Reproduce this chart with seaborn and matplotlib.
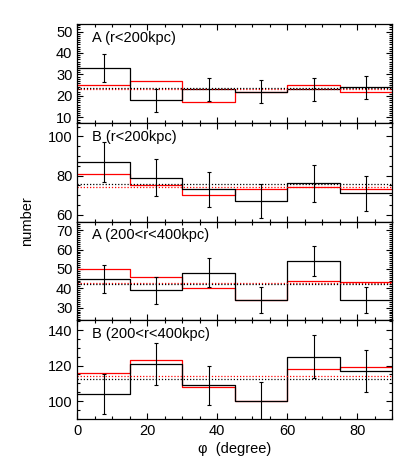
import numpy as np
import matplotlib
matplotlib.use("Agg")
import matplotlib.pyplot as plt
from matplotlib.ticker import MultipleLocator
import seaborn as sns

# ==============================
#   Values
# ==============================
phi_edges = [0, 15, 30, 45, 60, 75, 90]
panel_names = ["A (r<200kpc)", "B (r<200kpc)", "A (200<r<400kpc)", "B (200<r<400kpc)"]

a_in_black = [33, 18, 23, 22, 23, 24]
a_in_red = [25, 27, 17, 22, 25, 22]
a_in_err = [6.3, 5.3, 5.4, 5.3, 5.4, 5.5]

b_in_black = [87, 79, 73, 67, 76, 71]
b_in_red = [81, 75, 70, 73, 74, 73]
b_in_err = [10.0, 9.4, 9.0, 8.8, 9.3, 9.0]

a_out_black = [45, 39, 48, 34, 54, 34]
a_out_red = [50, 46, 40, 34, 44, 43]
a_out_err = [7.2, 6.9, 7.4, 6.5, 7.9, 6.5]

b_out_black = [104, 121, 109, 100, 125, 117]
b_out_red = [116, 123, 108, 100, 118, 119]
b_out_err = [11.1, 11.8, 11.0, 11.0, 12.0, 11.7]

y_limits = [(7.5, 53.5), (56.6, 107), (23.5, 74.5), (89.9, 145.5)]
y_major = [10, 20, 10, 20]
y_minor = [1, 5, 1, 5]

black_sets = [a_in_black, b_in_black, a_out_black, b_out_black]
red_sets = [a_in_red, b_in_red, a_out_red, b_out_red]
err_sets = [a_in_err, b_in_err, a_out_err, b_out_err]

# ==============================
#         Style
# ==============================
sns.set_style("ticks")
plt.rcParams["font.family"] = ["Liberation Sans", "DejaVu Sans"]
plt.rcParams["font.size"] = 10.5
plt.rcParams["axes.linewidth"] = 0.9
for key in ["axes.edgecolor", "text.color", "xtick.color", "ytick.color", "axes.labelcolor"]:
    plt.rcParams[key] = "black"

fig, axes = plt.subplots(4, 1, figsize=(4.15, 4.68), dpi=100, sharex=True)
fig.subplots_adjust(left=0.1863, right=0.9453, top=0.9487, bottom=0.1047, hspace=0)

centers = [(phi_edges[i] + phi_edges[i + 1]) / 2 for i in range(len(phi_edges) - 1)]

for ax, name, blk, red, err, ylim, maj, mnr in zip(axes, panel_names, black_sets, red_sets,
                                                   err_sets, y_limits, y_major, y_minor):
    # red histogram first, black on top of it
    sns.histplot(x=centers, weights=red, bins=phi_edges, element="step", fill=False,
                 color="#ff0000", linewidth=0.9, ax=ax)
    sns.histplot(x=centers, weights=blk, bins=phi_edges, element="step", fill=False,
                 color="black", linewidth=0.9, ax=ax)

    # mean levels as dotted lines
    ax.axhline(np.mean(red), color="#ff0000", linestyle=(0, (1, 1.5)), linewidth=0.9)
    ax.axhline(np.mean(blk), color="black", linestyle=(0, (1, 1.5)), linewidth=0.9)

    ax.errorbar(centers, blk, yerr=err, fmt="none", ecolor="black", elinewidth=0.8,
                capsize=1.6, capthick=0.8)

    ax.text(0.047, 0.93, name, transform=ax.transAxes, ha="left", va="top", fontsize=10.5)

    ax.set_xlim(0, 90)
    ax.set_ylim(*ylim)
    ax.yaxis.set_major_locator(MultipleLocator(maj))
    ax.yaxis.set_minor_locator(MultipleLocator(mnr))
    ax.xaxis.set_major_locator(MultipleLocator(20))
    ax.xaxis.set_minor_locator(MultipleLocator(5))
    ax.tick_params(which="both", direction="in", top=True, right=True, labelsize=10.5, width=0.8)
    ax.tick_params(which="major", length=4)
    ax.tick_params(which="minor", length=2)
    ax.set_ylabel("")
    ax.set_xlabel("")

axes[-1].set_xlabel("φ  (degree)", fontsize=10.5, labelpad=3)
fig.text(0.065, (0.9487 + 0.1047) / 2, "number", rotation=90, ha="center", va="center", fontsize=10.5)

fig.savefig("out.png", dpi=100)
